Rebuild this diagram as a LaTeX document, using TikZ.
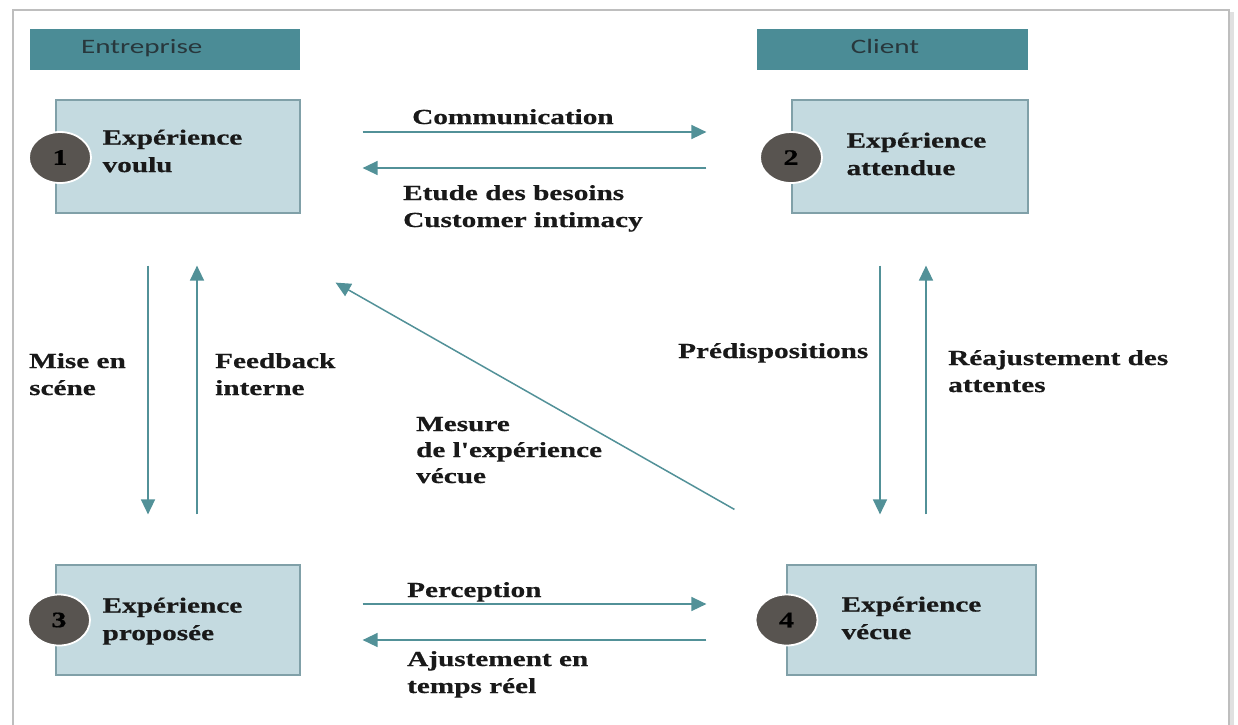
\documentclass[tikz,border=0pt]{standalone}
\usepackage{fontspec}
\setmainfont{Liberation Serif}[FakeStretch=1.36, Ligatures=TeXOff, BoldFeatures={FakeBold=0.6}]
\newfontfamily\headfont{Carlito}[FakeStretch=1.42]
\usetikzlibrary{arrows.meta,shapes.geometric,calc}

\definecolor{barteal}{RGB}{75,140,150}
\definecolor{boxblue}{RGB}{196,218,224}
\definecolor{boxline}{RGB}{128,160,168}
\definecolor{numgrey}{RGB}{88,84,80}
\definecolor{arrteal}{RGB}{82,145,152}
\definecolor{inkdark}{RGB}{25,25,25}
\definecolor{headink}{RGB}{40,55,60}
\definecolor{framegrey}{RGB}{190,190,190}

\begin{document}
\begin{tikzpicture}[x=1pt, y=-1pt,
    bar/.style={fill=barteal, minimum width=270pt, minimum height=41pt, inner sep=0pt},
    bartext/.style={font=\headfont\fontsize{20.5}{24}\selectfont, text=headink, inner sep=0pt},
    expbox/.style={fill=boxblue, draw=boxline, line width=1.2pt, minimum height=113pt, inner sep=0pt},
    exptext/.style={font=\bfseries\fontsize{21.5}{27.5}\selectfont, text=inkdark, align=left, inner sep=0pt},
    num/.style={ellipse, fill=numgrey, draw=white, line width=1.8pt, minimum width=62pt, minimum height=51pt,
      inner sep=0pt, font=\bfseries\fontsize{22}{24}\selectfont, text=black},
    lbl/.style={font=\bfseries\fontsize{21.5}{27}\selectfont, text=inkdark, align=left, inner sep=0pt},
    arr/.style={draw=arrteal, line width=1.5pt, -{Triangle[length=15pt,width=14pt]}, arrteal}]

  \useasboundingbox (0,0) rectangle (1238,724);

  % frame
  \fill[black!12] (1229,12) rectangle (1234,730);
  \draw[framegrey, line width=1.5pt] (13,740) -- (13,10) -- (1229,10) -- (1229,740);

  % headers
  \node[bar] (entbar) at (165,49.5) {};
  \node[bartext, anchor=base west] (ent) at (81,53) {Entreprise};
  \node[bar, minimum width=271pt] (clibar) at (892.5,49.5) {};
  \node[bartext, anchor=base] (cli) at (885,53) {Client};

  % boxes
  \node[expbox, minimum width=244pt] (b1) at (178,156.5) {};
  \node[expbox, minimum width=236pt] (b2) at (910,156.5) {};
  \node[expbox, minimum width=244pt, minimum height=110pt] (b3) at (178,620) {};
  \node[expbox, minimum width=249pt, minimum height=110pt] (b4) at (911.5,620) {};

  \node[exptext, anchor=north west] (t1) at ($(b1.north west)+(47,30)$) {Expérience\\voulu};
  \node[exptext, anchor=north west] (t2) at ($(b2.north west)+(55,33)$) {Expérience\\attendue};
  \node[exptext, anchor=north west] (t3) at ($(b3.north west)+(47,33)$) {Expérience\\proposée};
  \node[exptext, anchor=north west] (t4) at ($(b4.north west)+(55,32)$) {Expérience\\vécue};

  \node[num] (n1) at (60,157.5) {1};
  \node[num] (n2) at (791,157.5) {2};
  \node[num] (n3) at (59,620) {3};
  \node[num] (n4) at (786.5,620) {4};

  % horizontal arrows
  \draw[arr] ($(b1.east)+(62,-24.5)$) -- ($(b2.west)+(-85,-24.5)$);
  \draw[arr] ($(b2.west)+(-85,11.5)$) -- ($(b1.east)+(62,11.5)$);
  \draw[arr] ($(b3.east)+(62,-16)$) -- ($(b4.west)+(-80,-16)$);
  \draw[arr] ($(b4.west)+(-80,20)$) -- ($(b3.east)+(62,20)$);

  % vertical arrows
  \draw[arr] ($(b1.south)+(-30,52)$) -- ($(b3.north)+(-30,-50)$);
  \draw[arr] ($(b3.north)+(19,-50)$) -- ($(b1.south)+(19,52)$);
  \draw[arr] ($(b2.south)+(-30,52)$) -- ($(b4.north)+(-31.5,-50)$);
  \draw[arr] ($(b4.north)+(14.5,-50)$) -- ($(b2.south)+(16,52)$);

  % diagonal
  \draw[arr] ($(b4.north west)+(-52,-55)$) -- ($(b1.south east)+(35,69)$);

  % labels (base = last line)
  \node[lbl, anchor=base west] (comm) at (412,124) {Communication};
  \node[lbl, anchor=base west] (etude) at (403,227) {Etude des besoins\\Customer intimacy};
  \node[lbl, anchor=base west] (perc) at (407,597) {Perception};
  \node[lbl, anchor=base west] (ajust) at (407,693) {Ajustement en\\temps réel};
  \node[lbl, anchor=base west] (mise) at (29,395) {Mise en\\scéne};
  \node[lbl, anchor=base west] (feed) at (215,395) {Feedback\\interne};
  \node[lbl, anchor=base west] (predis) at (678,358) {Prédispositions};
  \node[lbl, anchor=base west] (reaj) at (948,392) {Réajustement des\\attentes};
  \node[lbl, anchor=base west, font=\bfseries\fontsize{21.5}{26}\selectfont] (mesure) at (416,483) {Mesure\\de l'expérience\\vécue};
\end{tikzpicture}
\end{document}
